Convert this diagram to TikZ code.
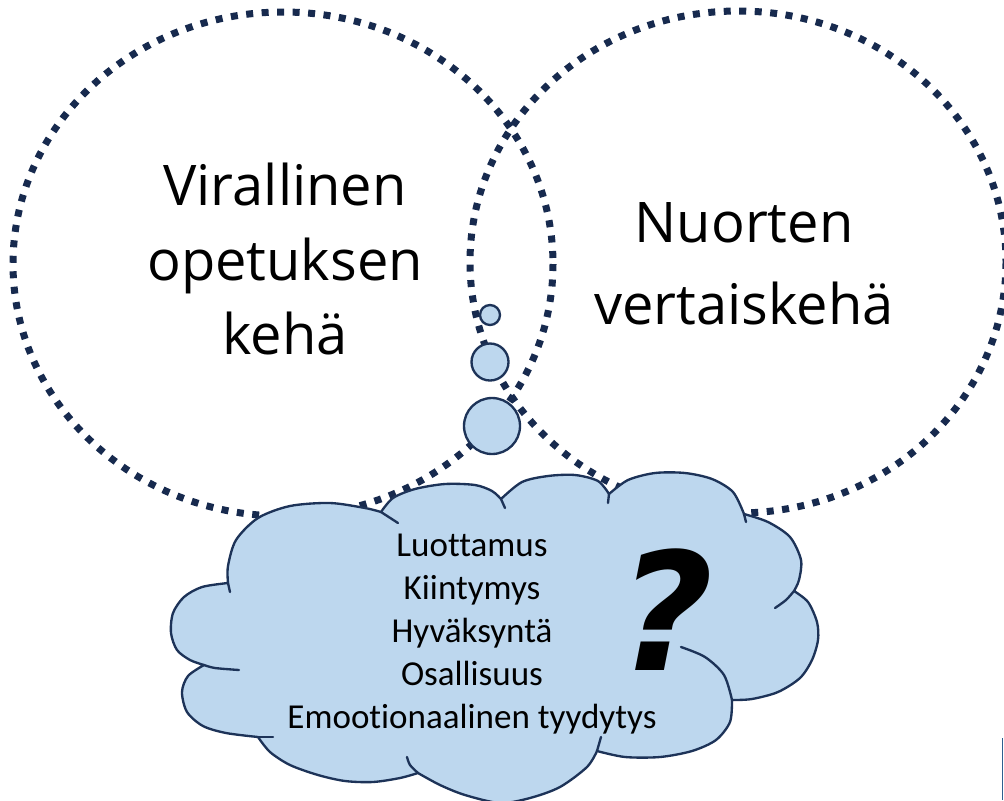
\documentclass[tikz,border=0pt]{standalone}
\usepackage{fontspec}
\setmainfont[Ligatures=NoCommon]{Carlito}
\newfontfamily\handfont{Open Sans}
\newfontfamily\markfont{DejaVu Sans}
\definecolor{ringnavy}{HTML}{172A4E}
\definecolor{cloudblue}{HTML}{BDD7EE}
\definecolor{cloudnavy}{HTML}{1D3358}
\definecolor{edgeblue}{HTML}{2F5F8F}
\begin{document}
\begin{tikzpicture}[x=0.03cm, y=-0.03cm, thick,
    ring/.style={ringnavy, line width=0.21cm, dash pattern=on 0.21cm off 0.255cm},
    puff/.style={cloudnavy, fill=cloudblue, line width=2pt, line join=round},
    lobe/.style={cloudnavy, line width=2pt, line cap=round},
    handtext/.style={font=\handfont\fontsize{47.8}{64}\selectfont, align=center, inner sep=0pt}]
\useasboundingbox (0,0) rectangle (1004,800);
% The two settings
\draw[ring] (283,264) ellipse [x radius=270, y radius=252];
\draw[ring] (738,262) ellipse [x radius=268, y radius=251];
% Thought bubbles
\draw[puff] (490,315) circle [radius=10];
\draw[puff] (490,362) circle [radius=18.5];
\draw[puff] (492,426) circle [radius=28];
% Cloud, lobe by lobe (clockwise from the top left)
\draw[puff] plot[smooth] coordinates {(228,583) (228,566) (236,540) (258,518) (290,506) (330,503) (365,508) (381,512)}
    -- plot[smooth] coordinates {(381,512) (393,498) (415,489) (445,484) (475,485) (492,491) (501,499)}
    -- plot[smooth] coordinates {(501,499) (522,482) (548,476) (575,475) (598,481) (609,494)}
    -- plot[smooth] coordinates {(609,494) (628,480) (655,473) (685,473) (712,479) (733,492) (744,514)}
    -- plot[smooth] coordinates {(744,514) (768,522) (790,537) (801,560) (799,580) (794,591)}
    -- plot[smooth] coordinates {(794,591) (808,602) (817,622) (818,640) (812,660) (800,678) (778,692) (752,699) (732,700)}
    -- plot[smooth] coordinates {(732,700) (730,722) (716,740) (692,751) (660,757) (625,757) (597,751)}
    -- plot[smooth] coordinates {(597,751) (587,767) (560,787) (530,798) (500,803) (465,795) (440,785) (418,773)}
    -- plot[smooth] coordinates {(418,773) (400,778) (373,782) (345,781) (318,775) (290,765) (270,752) (258,737)}
    -- plot[smooth] coordinates {(258,737) (226,733) (203,726) (187,712) (182,692) (188,676) (204,665)}
    -- plot[smooth] coordinates {(204,665) (190,660) (177,650) (171,633) (173,613) (184,597) (202,587) (228,583)}
    -- cycle;
% Loose ends of the lobes
\draw[lobe] (228,583) -- (230,592);
\draw[lobe] (381,512) -- (398,523);
\draw[lobe] (501,499) -- (505,508);
\draw[lobe] (609,494) -- (608,503);
\draw[lobe] (744,514) -- (746,522);
\draw[lobe] plot[smooth] coordinates {(794,591) (786,600) (775,608)};
\draw[lobe] plot[smooth] coordinates {(732,700) (724,675) (705,657) (681,647)};
\draw[lobe] (597,751) -- (601,737);
\draw[lobe] plot[smooth] coordinates {(418,773) (410,765) (407,757)};
\draw[lobe] (258,737) -- (273,737);
\draw[lobe] plot[smooth] coordinates {(204,665) (215,668) (239,670)};
% Edge of the next shape
\draw[edgeblue, line width=1.5pt] (1002.5,738) -- (1002.5,800);
% Labels
\node[handtext] (formal) at (285,259) {Virallinen\\opetuksen\\kehä};
\node[handtext, font=\handfont\fontsize{47.8}{70}\selectfont] (peers) at (744,264) {Nuorten\\vertaiskehä};
\node[font=\fontsize{29.9}{36.7}\selectfont, align=center, inner sep=0pt] (needs) at (472,634)
    {Luottamus\\Kiintymys\\Hyväksyntä\\Osallisuus\\Emootionaalinen tyydytys};
\node[font=\markfont\bfseries\itshape\fontsize{140}{150}\selectfont, inner sep=0pt] (doubt) at (666,610) {?};
\end{tikzpicture}
\end{document}
